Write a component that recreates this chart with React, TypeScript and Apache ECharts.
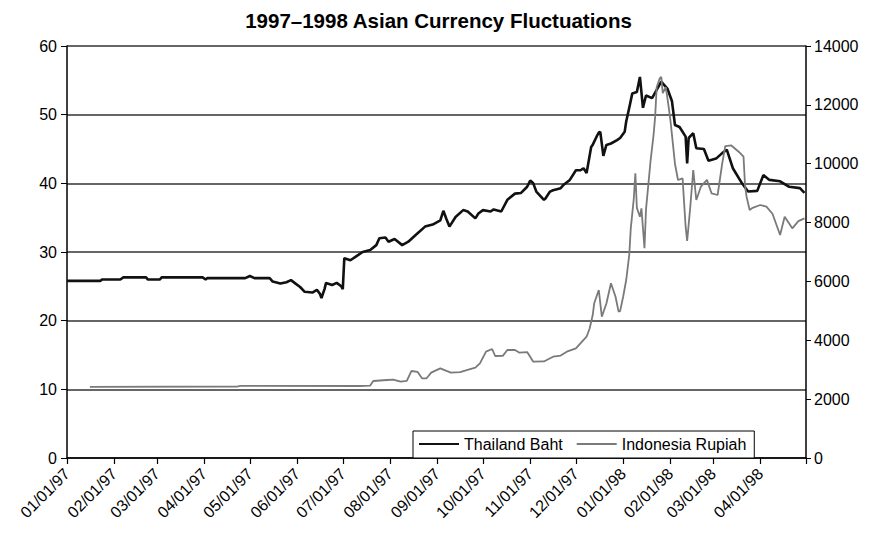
import React, { useEffect, useRef } from "react";
import * as echarts from "echarts";

const titleText = "1997–1998 Asian Currency Fluctuations";
const seriesNames = ["Thailand Baht", "Indonesia Rupiah"];

const monthTicks = [
  "1997-01-01", "1997-02-01", "1997-03-01", "1997-04-01", "1997-05-01", "1997-06-01",
  "1997-07-01", "1997-08-01", "1997-09-01", "1997-10-01", "1997-11-01", "1997-12-01",
  "1998-01-01", "1998-02-01", "1998-03-01", "1998-04-01", "1998-05-01",
];

const bahtDates = [
  "1997-01-01", "1997-01-23", "1997-01-24", "1997-02-05", "1997-02-07", "1997-02-22", "1997-02-23",
  "1997-03-03", "1997-03-04", "1997-03-31", "1997-04-02", "1997-04-03", "1997-04-28", "1997-05-01",
  "1997-05-04", "1997-05-14", "1997-05-16", "1997-05-21", "1997-05-25", "1997-05-28", "1997-05-31",
  "1997-06-03", "1997-06-06", "1997-06-11", "1997-06-14", "1997-06-16", "1997-06-17", "1997-06-19",
  "1997-06-20", "1997-06-24", "1997-06-27", "1997-06-30", "1997-07-01", "1997-07-02", "1997-07-06",
  "1997-07-10", "1997-07-14", "1997-07-19", "1997-07-23", "1997-07-25", "1997-07-29", "1997-07-31",
  "1997-08-04", "1997-08-09", "1997-08-13", "1997-08-18", "1997-08-24", "1997-08-29", "1997-09-03",
  "1997-09-05", "1997-09-07", "1997-09-09", "1997-09-13", "1997-09-18", "1997-09-21", "1997-09-26",
  "1997-09-28", "1997-10-01", "1997-10-06", "1997-10-08", "1997-10-13", "1997-10-17", "1997-10-22",
  "1997-10-26", "1997-10-30", "1997-11-01", "1997-11-03", "1997-11-05", "1997-11-10", "1997-11-11",
  "1997-11-14", "1997-11-16", "1997-11-21", "1997-11-23", "1997-11-27", "1997-12-01", "1997-12-04",
  "1997-12-06", "1997-12-08", "1997-12-11", "1997-12-12", "1997-12-15", "1997-12-16", "1997-12-17",
  "1997-12-19", "1997-12-21", "1997-12-24", "1997-12-28", "1997-12-30", "1998-01-02", "1998-01-03",
  "1998-01-05", "1998-01-07", "1998-01-10", "1998-01-12", "1998-01-14", "1998-01-16", "1998-01-20",
  "1998-01-23", "1998-01-26", "1998-01-30", "1998-02-02", "1998-02-04", "1998-02-07", "1998-02-11",
  "1998-02-12", "1998-02-13", "1998-02-16", "1998-02-18", "1998-02-23", "1998-02-26", "1998-03-03",
  "1998-03-07", "1998-03-10", "1998-03-14", "1998-03-20", "1998-03-24", "1998-03-30", "1998-04-03",
  "1998-04-07", "1998-04-14", "1998-04-20", "1998-04-27", "1998-04-30",
];
const bahtValues = [
  25.8, 25.8, 26.0, 26.0, 26.3, 26.3, 26.0,
  26.0, 26.3, 26.3, 26.0, 26.2, 26.2, 26.5,
  26.2, 26.2, 25.7, 25.4, 25.6, 25.9, 25.4,
  24.9, 24.2, 24.1, 24.5, 23.9, 23.3, 24.6,
  25.5, 25.2, 25.5, 25.0, 24.6, 29.1, 28.8,
  29.4, 30.0, 30.3, 31.0, 32.0, 32.1, 31.5,
  31.9, 31.0, 31.5, 32.5, 33.7, 34.0, 34.6,
  36.0, 34.8, 33.7, 35.1, 36.1, 35.9, 34.9,
  35.6, 36.1, 35.9, 36.2, 35.9, 37.6, 38.5,
  38.6, 39.5, 40.4, 40.0, 38.8, 37.6, 37.8,
  38.8, 39.0, 39.3, 39.8, 40.5, 41.9, 41.9,
  42.2, 41.5, 45.3, 45.6, 47.0, 47.4, 47.5,
  44.0, 45.6, 45.8, 46.3, 46.6, 47.5, 49.0,
  51.0, 53.1, 53.3, 55.5, 51.0, 52.8, 52.4,
  53.6, 54.8, 53.8, 52.0, 48.5, 48.2, 46.8,
  42.9, 46.6, 47.3, 45.1, 45.0, 43.3, 43.6,
  44.4, 44.9, 42.2, 40.0, 38.8, 38.9, 41.2,
  40.5, 40.3, 39.5, 39.3, 38.6,
];

const rupiahDates = [
  "1997-01-16", "1997-04-23", "1997-04-25", "1997-07-12", "1997-07-19", "1997-07-21", "1997-07-30",
  "1997-08-03", "1997-08-08", "1997-08-12", "1997-08-15", "1997-08-19", "1997-08-22", "1997-08-25",
  "1997-08-28", "1997-09-03", "1997-09-07", "1997-09-10", "1997-09-16", "1997-09-22", "1997-09-26",
  "1997-09-29", "1997-10-03", "1997-10-07", "1997-10-09", "1997-10-14", "1997-10-17", "1997-10-22",
  "1997-10-25", "1997-10-30", "1997-11-03", "1997-11-10", "1997-11-16", "1997-11-21", "1997-11-25",
  "1997-12-01", "1997-12-05", "1997-12-08", "1997-12-10", "1997-12-12", "1997-12-13", "1997-12-16",
  "1997-12-18", "1997-12-21", "1997-12-24", "1997-12-27", "1997-12-29", "1997-12-30", "1998-01-01",
  "1998-01-03", "1998-01-05", "1998-01-06", "1998-01-08", "1998-01-09", "1998-01-10", "1998-01-12",
  "1998-01-13", "1998-01-15", "1998-01-16", "1998-01-19", "1998-01-21", "1998-01-22", "1998-01-23",
  "1998-01-25", "1998-01-26", "1998-01-27", "1998-01-29", "1998-01-31", "1998-02-01", "1998-02-02",
  "1998-02-04", "1998-02-06", "1998-02-09", "1998-02-11", "1998-02-12", "1998-02-14", "1998-02-16",
  "1998-02-18", "1998-02-21", "1998-02-25", "1998-02-28", "1998-03-04", "1998-03-07", "1998-03-09",
  "1998-03-13", "1998-03-18", "1998-03-21", "1998-03-22", "1998-03-23", "1998-03-25", "1998-03-27",
  "1998-04-01", "1998-04-05", "1998-04-09", "1998-04-14", "1998-04-17", "1998-04-22", "1998-04-26",
  "1998-04-30",
];
const rupiahValues = [
  2420, 2430, 2450, 2446, 2460, 2616, 2650,
  2660, 2593, 2620, 2956, 2930, 2707, 2710,
  2899, 3047, 2960, 2899, 2920, 3013, 3070,
  3216, 3613, 3704, 3466, 3470, 3670, 3670,
  3579, 3600, 3273, 3280, 3443, 3480, 3613,
  3727, 3953, 4122, 4400, 4850, 5256, 5709,
  4802, 5250, 5936, 5481, 4972, 4990, 5480,
  6048, 6900, 7800, 8825, 9674, 8500, 8199,
  8485, 7126, 8450, 10100, 11000, 11600, 12600,
  12900, 12950, 12400, 12600, 11883, 11485, 11000,
  10000, 9446, 9500, 7860, 7380, 8500, 9787,
  8767, 9219, 9450, 8994, 8937, 10000, 10600,
  10620, 10400, 10238, 9250, 8879, 8427, 8500,
  8597, 8539, 8300, 7578, 8199, 7805, 8050,
  8144,
];

const toLocal = (s: string) => {
  const [y, m, d] = s.split("-").map(Number);
  return new Date(y, m - 1, d).getTime();
};
const pad = (n: number) => (n < 10 ? "0" + n : "" + n);
const fmt = (t: number) => {
  const d = new Date(t);
  return pad(d.getMonth() + 1) + "/" + pad(d.getDate()) + "/" + pad(d.getFullYear() % 100);
};

const FONT = "'Liberation Sans', Arial, sans-serif";

export default function App() {
  const ref = useRef<HTMLDivElement>(null);
  useEffect(() => {
    if (!ref.current) return;
    const chart = echarts.init(ref.current, undefined, { renderer: "svg" });
    const tickVals = monthTicks.map(toLocal);
    const labelVals = tickVals.slice(0, tickVals.length - 1);
    chart.setOption({
      animation: false,
      backgroundColor: "#fff",
      textStyle: { fontFamily: FONT },
      title: {
        text: titleText,
        left: "center",
        top: 5,
        textStyle: { fontFamily: FONT, fontSize: 20.5, fontWeight: "bold", color: "#000" },
      },
      legend: {
        data: seriesNames,
        left: 413,
        top: 431,
        icon: "rect",
        itemWidth: 40,
        itemHeight: 2,
        itemGap: 14,
        padding: [5, 8, 6, 6],
        borderColor: "#000",
        borderWidth: 1,
        backgroundColor: "#fff",
        textStyle: { fontFamily: FONT, fontSize: 16, color: "#000" },
        z: 10,
      },
      grid: { left: 67, right: 71, top: 46, bottom: 90, containLabel: false },
      xAxis: {
        type: "value",
        min: tickVals[0],
        max: tickVals[tickVals.length - 1],
        axisLine: { show: true, onZero: false, lineStyle: { color: "#000", width: 1.5 } },
        axisTick: { show: true, customValues: tickVals, length: 6, lineStyle: { color: "#000", width: 1.2 } },
        axisLabel: {
          customValues: labelVals,
          rotate: 45,
          fontSize: 16,
          color: "#000",
          margin: 13,
          fontFamily: FONT,
          formatter: (v: number) => fmt(v),
        },
        splitLine: { show: false },
      },
      yAxis: [
        {
          type: "value",
          min: 0,
          max: 60,
          interval: 10,
          position: "left",
          axisLine: { show: true, lineStyle: { color: "#000", width: 1.5 } },
          axisTick: { show: true, length: 6, lineStyle: { color: "#000" } },
          axisLabel: { fontSize: 16, color: "#000", margin: 10, fontFamily: FONT },
          splitLine: { show: true, lineStyle: { color: "#333", width: 1.5 } },
        },
        {
          type: "value",
          min: 0,
          max: 14000,
          interval: 2000,
          position: "right",
          axisLine: { show: true, lineStyle: { color: "#000", width: 1.5 } },
          axisTick: { show: true, length: 5, lineStyle: { color: "#000" } },
          axisLabel: {
            fontSize: 16,
            color: "#000",
            margin: 8,
            fontFamily: FONT,
            formatter: (v: number) => String(v),
          },
          splitLine: { show: false },
        },
      ],
      series: [
        {
          name: seriesNames[0],
          type: "line",
          yAxisIndex: 0,
          symbol: "none",
          data: bahtDates.map((d, i) => [toLocal(d), bahtValues[i]]),
          lineStyle: { color: "#111", width: 2.6 },
          itemStyle: { color: "#111" },
        },
        {
          name: seriesNames[1],
          type: "line",
          yAxisIndex: 1,
          symbol: "none",
          data: rupiahDates.map((d, i) => [toLocal(d), rupiahValues[i]]),
          lineStyle: { color: "#7a7a7a", width: 1.8 },
          itemStyle: { color: "#7a7a7a" },
        },
      ],
    });
    return () => chart.dispose();
  }, []);
  return (
    <div
      ref={ref}
      style={{ position: "fixed", left: 0, top: 0, width: 877, height: 548, background: "#fff" }}
    />
  );
}
